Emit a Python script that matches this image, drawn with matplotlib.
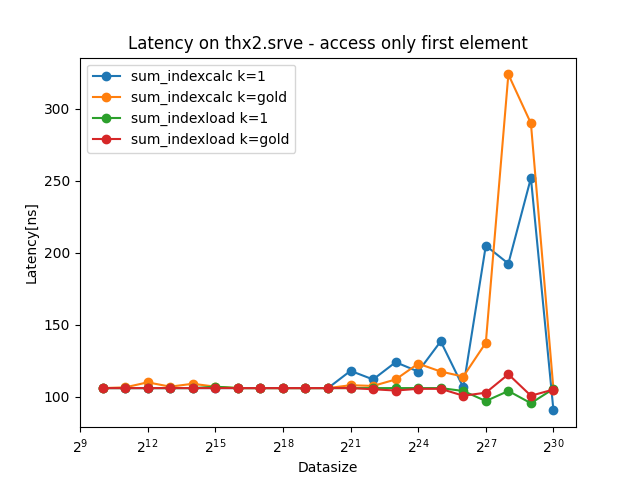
import numpy as np
import matplotlib.pyplot as plt

# Datasize 2^10 .. 2^30
sizes = [2 ** e for e in range(10, 31)]

calc_k1 = [106, 106, 106, 106, 106, 106, 106, 106, 106, 106, 106,
           118, 112, 124, 117.5, 138.5, 106.5, 205, 192.5, 252, 90.5]
calc_gold = [106, 106.5, 110, 107, 109, 107, 106, 106, 106, 106, 106,
             108, 107.5, 112, 123, 117.5, 114, 137.5, 324, 290, 105]
load_k1 = [106, 106, 106, 106, 106, 107, 106, 106, 106, 106, 106,
           106, 106, 106, 106, 106, 104, 97, 104, 95.5, 105.5]
load_gold = [106, 106, 106, 106, 106, 106, 106, 106, 106, 106, 106,
             106, 105.2, 104.3, 105.5, 105.5, 100.7, 102.8, 115.6, 100.7, 105]

plt.figure(figsize=(6.4, 4.8), dpi=100)
plt.plot(sizes, calc_k1, 'o-', label='sum_indexcalc k=1')
plt.plot(sizes, calc_gold, 'o-', label='sum_indexcalc k=gold')
plt.plot(sizes, load_k1, 'o-', label='sum_indexload k=1')
plt.plot(sizes, load_gold, 'o-', label='sum_indexload k=gold')

plt.xscale('log', base=2)
plt.title("Latency on thx2.srve - access only first element")
plt.xlabel("Datasize")
plt.ylabel("Latency[ns]")
plt.legend(loc='upper left')
plt.savefig('out.png')
